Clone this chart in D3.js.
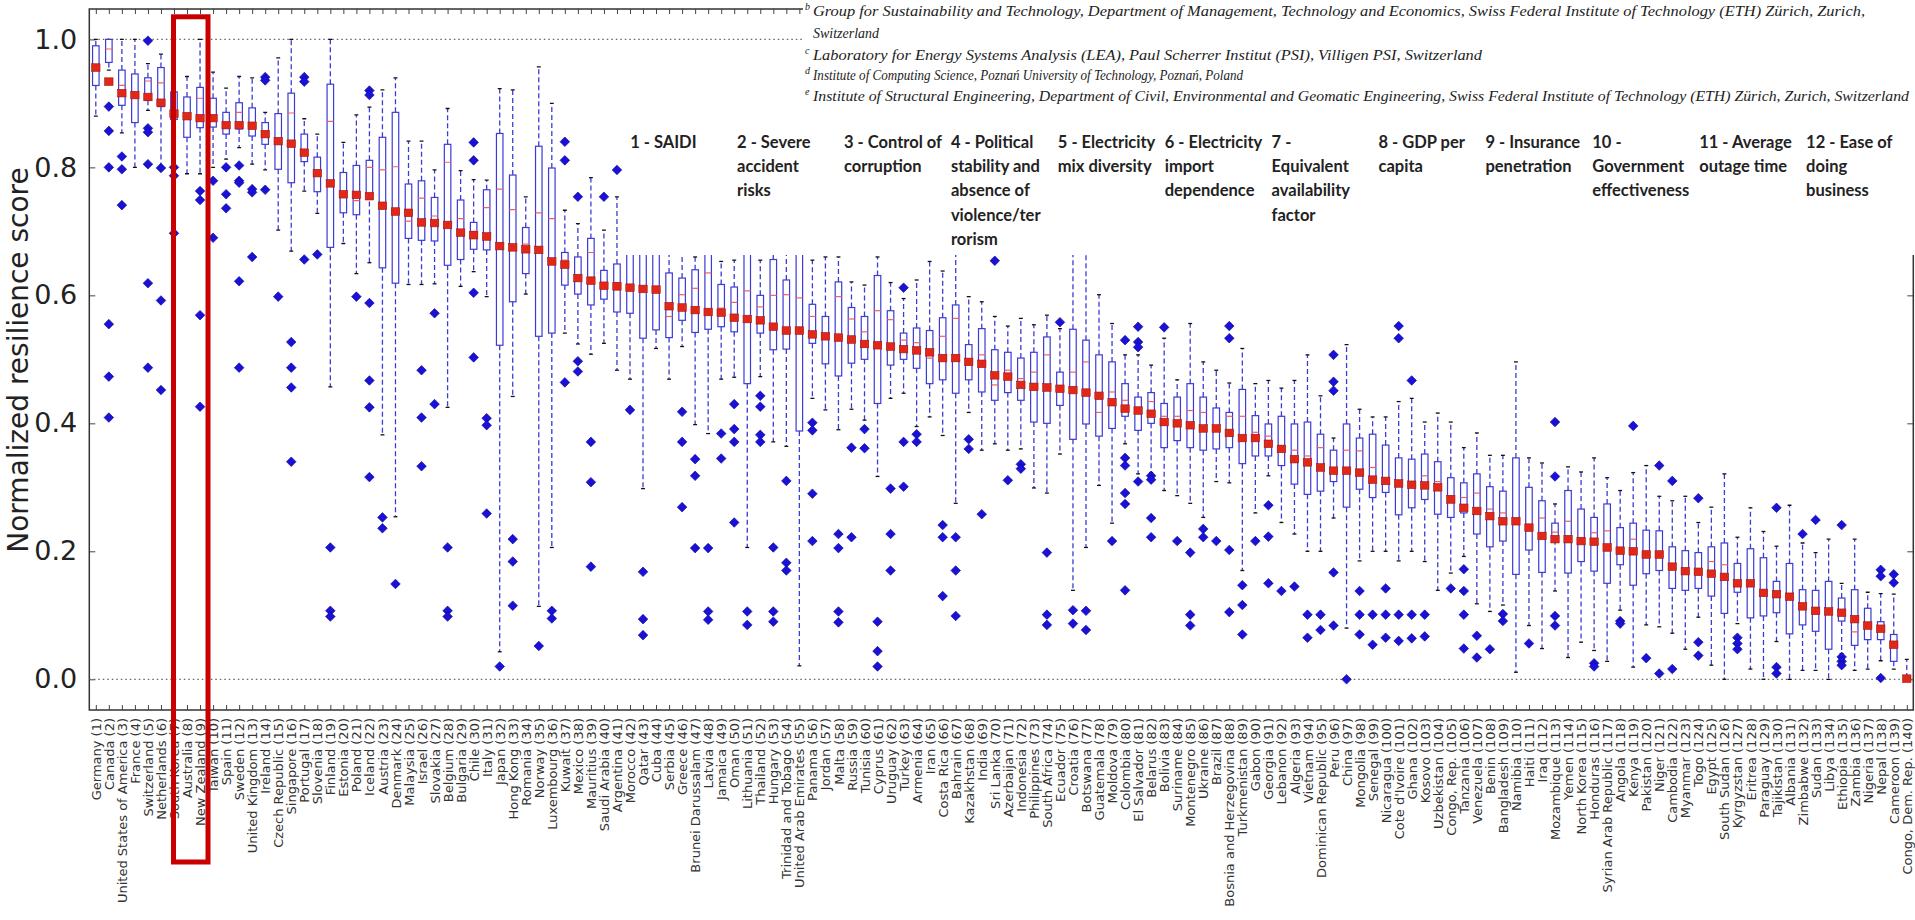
<!DOCTYPE html>
<html><head><meta charset="utf-8">
<script src="https://cdn.jsdelivr.net/npm/d3@7"></script>
<style>body{margin:0;background:#fff;}svg{display:block;}</style>
</head><body>
<svg id="c" width="1915" height="920"></svg>
<script>
const names = ["Germany","Canada","United States of America","France","Switzerland","Netherlands","South Korea","Australia","New Zealand","Taiwan",
"Spain","Sweden","United Kingdom","Ireland","Czech Republic","Singapore","Portugal","Slovenia","Finland","Estonia",
"Poland","Iceland","Austria","Denmark","Malaysia","Israel","Slovakia","Belgium","Bulgaria","Chile",
"Italy","Japan","Hong Kong","Romania","Norway","Luxembourg","Kuwait","Mexico","Mauritius","Saudi Arabia",
"Argentina","Morocco","Qatar","Cuba","Serbia","Greece","Brunei Darussalam","Latvia","Jamaica","Oman",
"Lithuania","Thailand","Hungary","Trinidad and Tobago","United Arab Emirates","Panama","Jordan","Malta","Russia","Tunisia",
"Cyprus","Uruguay","Turkey","Armenia","Iran","Costa Rica","Bahrain","Kazakhstan","India","Sri Lanka",
"Azerbaijan","Indonesia","Philippines","South Africa","Ecuador","Croatia","Botswana","Guatemala","Moldova","Colombia",
"El Salvador","Belarus","Bolivia","Suriname","Montenegro","Ukraine","Brazil","Bosnia and Herzegovina","Turkmenistan","Gabon",
"Georgia","Lebanon","Algeria","Vietnam","Dominican Republic","Peru","China","Mongolia","Senegal","Nicaragua",
"Cote d'Ivoire","Ghana","Kosovo","Uzbekistan","Congo, Rep.","Tanzania","Venezuela","Benin","Bangladesh","Namibia",
"Haiti","Iraq","Mozambique","Yemen","North Korea","Honduras","Syrian Arab Republic","Angola","Kenya","Pakistan",
"Niger","Cambodia","Myanmar","Togo","Egypt","South Sudan","Kyrgyzstan","Eritrea","Paraguay","Tajikistan",
"Albania","Zimbabwe","Sudan","Libya","Ethiopia","Zambia","Nigeria","Nepal","Cameroon","Congo, Dem. Rep."];

const score = [.956,.934,.916,.913,.910,.901,.884,.880,.877,.877,
.866,.866,.865,.852,.841,.837,.823,.791,.775,.758,
.757,.755,.740,.731,.729,.714,.713,.710,.698,.694,
.692,.677,.675,.672,.671,.653,.648,.627,.623,.615,
.614,.612,.610,.609,.583,.581,.577,.574,.573,.565,
.563,.561,.551,.545,.545,.539,.536,.534,.531,.524,
.522,.520,.516,.514,.511,.502,.502,.496,.493,.475,
.473,.460,.457,.456,.454,.452,.448,.443,.433,.423,
.420,.415,.402,.400,.397,.392,.392,.385,.377,.377,
.368,.360,.344,.339,.331,.326,.326,.323,.312,.310,
.306,.304,.303,.300,.281,.268,.263,.255,.247,.247,
.237,.224,.219,.219,.216,.215,.206,.201,.200,.195,
.195,.176,.169,.168,.165,.160,.150,.150,.135,.133,
.129,.114,.107,.106,.104,.094,.084,.079,.054,.001];

const q1 = [.928,.964,.897,.870,.905,.895,.875,.847,.862,.863,
.852,.860,.849,.836,.797,.776,.809,.762,.675,.729,
.726,.759,.643,.619,.689,.686,.685,.647,.656,.672,
.671,.522,.590,.634,.536,.541,.616,.602,.585,.594,
.574,.572,.533,.546,.534,.561,.542,.547,.551,.543,
.462,.541,.515,.516,.388,.525,.493,.474,.494,.500,
.431,.491,.500,.486,.462,.468,.447,.468,.449,.436,
.448,.436,.402,.400,.428,.375,.399,.380,.392,.411,
.389,.400,.362,.373,.362,.358,.360,.362,.337,.349,
.349,.334,.305,.289,.294,.309,.269,.297,.284,.292,
.257,.268,.281,.258,.253,.260,.227,.207,.216,.164,
.202,.167,.218,.166,.184,.169,.150,.179,.147,.165,
.170,.142,.139,.142,.130,.103,.136,.096,.099,.104,
.071,.085,.075,.047,.091,.053,.062,.062,.028,0];

const med = [.957,.985,.928,.912,.935,.932,.888,.884,.908,.877,
.868,.886,.866,.854,.840,.885,.825,.790,.872,.760,
.748,.800,.796,.801,.716,.752,.724,.808,.720,.700,
.737,.766,.734,.680,.729,.720,.655,.630,.667,.620,
.620,.615,.610,.610,.567,.601,.611,.635,.580,.589,
.607,.582,.600,.601,.596,.567,.540,.598,.563,.543,
.576,.562,.530,.526,.502,.536,.564,.500,.507,.460,
.483,.470,.480,.507,.455,.480,.496,.417,.449,.436,
.420,.434,.411,.411,.420,.417,.390,.411,.411,.386,
.380,.360,.358,.349,.362,.330,.358,.357,.331,.310,
.310,.305,.318,.309,.287,.284,.291,.266,.260,.250,
.240,.252,.230,.247,.220,.229,.232,.205,.219,.200,
.195,.178,.170,.170,.184,.179,.150,.153,.140,.133,
.130,.115,.102,.106,.104,.074,.084,.080,.054,0];

const q3 = [.990,1.0,.952,.946,.940,.956,.918,.910,.925,.908,
.886,.901,.893,.870,.884,.916,.852,.816,.930,.792,
.803,.811,.847,.886,.774,.779,.753,.836,.749,.714,
.765,.853,.788,.706,.833,.799,.667,.660,.689,.639,
.649,.700,.700,.700,.635,.627,.640,.680,.617,.613,
.680,.600,.656,.624,.700,.586,.567,.621,.581,.567,
.631,.576,.541,.549,.545,.565,.585,.523,.548,.515,
.511,.502,.511,.535,.480,.547,.530,.507,.496,.462,
.441,.448,.431,.441,.462,.441,.424,.417,.453,.412,
.399,.411,.399,.402,.383,.358,.399,.377,.383,.366,
.346,.344,.352,.340,.315,.307,.321,.301,.294,.346,
.300,.279,.244,.295,.266,.253,.274,.237,.244,.233,
.232,.207,.201,.198,.207,.213,.181,.204,.190,.153,
.181,.140,.139,.153,.127,.140,.111,.090,.070,.002];

const whiskerLow = [.880,.952,.854,.800,.889,.803,.840,.790,.790,.800,
.813,.831,.805,.796,.702,.669,.763,.728,.457,.681,
.634,.651,.382,.254,.617,.617,.618,.425,.614,.637,
.598,.043,.442,.602,.114,.206,.541,.524,.508,.525,
.483,.469,.298,.517,.469,.520,.398,.384,.469,.472,
.206,.473,.371,.364,.021,.439,.421,.390,.422,.405,
.317,.439,.447,.395,.410,.381,.275,.417,.358,.368,
.358,.360,.299,.291,.352,.139,.206,.303,.244,.368,
.321,.323,.295,.287,.275,.253,.309,.307,.170,.260,
.318,.245,.227,.200,.200,.252,.080,.185,.200,.200,
.185,.200,.184,.139,.166,.192,.118,.106,.116,.011,
.084,.048,.138,.034,.058,.045,.028,.108,.019,.085,
.082,.072,.047,.097,.022,0,.087,.016,0,.059,
0,.014,.014,0,.040,.014,.016,.029,.016,0];

const whiskerHigh = [1.0,1.0,1.0,1.0,.962,.977,.940,.942,1.0,.949,
.924,.942,.940,.886,.971,1.0,.876,.852,1.0,.839,
.882,.894,.921,.940,.841,.841,.796,.892,.795,.781,
.780,.923,.921,.754,.957,.900,.733,.712,.784,.702,
.754,.800,.800,.800,.720,.700,.660,.750,.653,.655,
.750,.655,.750,.720,.800,.655,.660,.660,.621,.616,
.660,.620,.595,.624,.653,.638,.720,.598,.590,.567,
.552,.564,.554,.569,.548,.750,.750,.601,.556,.507,
.507,.491,.533,.468,.556,.496,.483,.463,.517,.462,
.467,.455,.467,.507,.443,.377,.523,.422,.410,.410,
.434,.439,.402,.416,.402,.362,.385,.350,.350,.496,
.346,.338,.274,.332,.324,.346,.315,.295,.323,.334,
.286,.279,.286,.245,.269,.321,.222,.268,.231,.208,
.272,.213,.198,.219,.150,.219,.136,.134,.133,.031];

const outliers = [[],[.895,.857,.80,.555,.473,.409],[.817,.797,.741],[],[.998,.861,.855,.805,.619,.487],[.799,.592,.452],[.80,.787,.697],[],[.763,.749,.569,.426],[.779,.690],
[.80,.758,.736],[.803,.779,.776,.622,.487],[.766,.761,.660],[.941,.936,.765],[.598],[.527,.487,.456,.340],[.941,.934,.656],[.664],[.206,.107,.098],[],
[.598],[.920,.913,.588,.467,.425,.316],[.253,.236],[.149],[],[.483,.409,.333],[.572,.430],[.206,.107,.098],[],[.839,.811,.604,.503],
[.408,.397,.259],[.020],[.219,.184,.115],[],[.052],[.107,.095],[.840,.811,.464],[.754,.497,.481],[.371,.308,.176],[.754],
[.796],[.421],[.168,.094,.069],[],[],[.418,.371,.269],[.344,.318,.205],[.205,.106,.093],[.384,.345],[.430,.391,.371,.245],
[.106,.085],[.443,.426,.382,.371],[.206,.106,.090],[.310,.182,.170],[],[.401,.389,.290,.216],[],[.227,.205,.106,.089],[.362,.222],[.391,.361],
[.090,.044,.020],[.298,.227,.170],[.612,.371,.301],[.383,.371],[],[.241,.222,.130],[.222,.170,.099],[.375,.360],[.258],[.654],
[.311],[.336,.329],[],[.198,.101,.085],[.558],[.108,.087],[.107,.077],[],[.216],[.530,.346,.334,.291,.274,.139],
[.551,.527,.519,.309],[.318,.312,.252,.222],[.550],[.216],[.198,.101,.084],[.235,.222],[.216],[.552,.533,.202,.105],[.147,.116,.070],[.216],
[.272,.223,.150],[.138],[.145],[.101,.065],[.101,.077],[.507,.465,.451,.167,.084],[0],[.138,.101,.070],[.101,.054],[.142,.101,.065],
[.552,.533,.101,.060],[.467,.101,.064],[.101,.067],[],[.142],[.172,.138,.101,.048],[.068,.034],[.047],[.102,.091],[],
[.056],[],[.402,.317,.099,.084],[],[],[.025,.020],[],[.091,.087],[.396],[.033],
[.334,.009],[.310,.016],[],[.283,.058,.037],[],[],[.065,.056,.047],[],[],[.268,.019,.009],
[],[.227],[.249],[],[.241,.035,.028,.022],[],[],[.171,.161,.002],[.164,.151],[]];

const yTicks = [0.0, 0.2, 0.4, 0.6, 0.8, 1.0];

const criteria = [
  ["1 - SAIDI"],
  ["2 - Severe","accident","risks"],
  ["3 - Control of","corruption"],
  ["4 - Political","stability and","absence of","violence/ter","rorism"],
  ["5 - Electricity","mix diversity"],
  ["6 - Electricity","import","dependence"],
  ["7 -","Equivalent","availability","factor"],
  ["8 - GDP per","capita"],
  ["9 - Insurance","penetration"],
  ["10 -","Government","effectiveness"],
  ["11 - Average","outage time"],
  ["12 - Ease of","doing","business"]
];

const affiliations = [
  {sup:"b", text:"Group for Sustainability and Technology, Department of Management, Technology and Economics, Swiss Federal Institute of Technology (ETH) Zürich, Zurich,", w:1052},
  {sup:"", text:"Switzerland", w:66},
  {sup:"c", text:"Laboratory for Energy Systems Analysis (LEA), Paul Scherrer Institut (PSI), Villigen PSI, Switzerland", w:669},
  {sup:"d", text:"Institute of Computing Science, Poznań University of Technology, Poznań, Poland", w:430},
  {sup:"e", text:"Institute of Structural Engineering, Department of Civil, Environmental and Geomatic Engineering, Swiss Federal Institute of Technology (ETH) Zürich, Zurich, Switzerland", w:1096}
];

const svg = d3.select("#c");
const L = 89.3, R = 1913.3, T = 9, B = 710;
const n = names.length;
const x = d3.scaleLinear().domain([0.5, n + 0.5]).range([L, R]);
const y = d3.scaleLinear().domain([-0.048, 1.0475]).range([B, T]);
const idx = d3.range(1, n + 1);

svg.append("defs").append("clipPath").attr("id","plot")
  .append("rect").attr("x",L).attr("y",T).attr("width",R-L).attr("height",B-T);

// axes
const gx = svg.append("g").attr("transform",`translate(0,${B})`)
  .call(d3.axisBottom(x).tickValues(idx).tickSize(-5).tickPadding(8)
    .tickFormat(i => `${names[i-1]} (${i})`));
gx.selectAll("text").attr("transform","rotate(-90)")
  .attr("text-anchor","end").attr("x",-8).attr("y",0).attr("dy","0.35em")
  .style("font-family","DejaVu Sans").style("font-size","13px").attr("fill","#333");
const gxt = svg.append("g").attr("transform",`translate(0,${T})`)
  .call(d3.axisTop(x).tickValues(idx).tickSize(-5).tickFormat(""));
const gy = svg.append("g").attr("transform",`translate(${L},0)`)
  .call(d3.axisLeft(y).tickValues(yTicks).tickSize(-6).tickPadding(12).tickFormat(d3.format(".1f")));
gy.selectAll("text").style("font-family","DejaVu Sans").style("font-size","27px").attr("fill","#222");
const gyr = svg.append("g").attr("transform",`translate(${R},0)`)
  .call(d3.axisRight(y).tickValues(yTicks).tickSize(-6).tickFormat(""));
[gx,gxt,gy,gyr].forEach(g=>{g.selectAll("path").remove(); g.selectAll("line").attr("stroke","#444");});
svg.append("rect").attr("x",L).attr("y",T).attr("width",R-L).attr("height",B-T)
  .attr("fill","none").attr("stroke","#333").attr("stroke-width",1.5);

svg.append("text").attr("transform",`translate(28,360) rotate(-90)`)
  .attr("text-anchor","middle").style("font-family","DejaVu Sans").style("font-size","28px")
  .attr("fill","#222").text("Normalized resilience score");

const plot = svg.append("g").attr("clip-path","url(#plot)");
[0,1].forEach(v=>plot.append("line").attr("x1",L).attr("x2",R).attr("y1",y(v)).attr("y2",y(v))
  .attr("stroke","#666").attr("stroke-width",1.2).attr("stroke-dasharray","1.5,3"));

const hw = (x(1.25)-x(1))*1;
const cw = (x(1.15)-x(1));
const blue = "#3b3bd6";
const g = plot.selectAll("g.c").data(idx).join("g");
// whiskers
g.append("line").attr("x1",i=>x(i)).attr("x2",i=>x(i)).attr("y1",i=>y(q3[i-1])).attr("y2",i=>y(whiskerHigh[i-1]))
  .attr("stroke",blue).attr("stroke-width",1.3).attr("stroke-dasharray","5,3");
g.append("line").attr("x1",i=>x(i)).attr("x2",i=>x(i)).attr("y1",i=>y(q1[i-1])).attr("y2",i=>y(whiskerLow[i-1]))
  .attr("stroke",blue).attr("stroke-width",1.3).attr("stroke-dasharray","5,3");
g.append("line").attr("x1",i=>x(i)-cw).attr("x2",i=>x(i)+cw).attr("y1",i=>y(whiskerHigh[i-1])).attr("y2",i=>y(whiskerHigh[i-1]))
  .attr("stroke","#111").attr("stroke-width",1.3);
g.append("line").attr("x1",i=>x(i)-cw).attr("x2",i=>x(i)+cw).attr("y1",i=>y(whiskerLow[i-1])).attr("y2",i=>y(whiskerLow[i-1]))
  .attr("stroke","#111").attr("stroke-width",1.3);
// boxes
g.append("rect").attr("x",i=>x(i)-hw).attr("width",2*hw)
  .attr("y",i=>y(q3[i-1])).attr("height",i=>Math.max(0.5,y(q1[i-1])-y(q3[i-1])))
  .attr("fill","none").attr("stroke",blue).attr("stroke-width",1.2);
g.append("line").attr("x1",i=>x(i)-hw).attr("x2",i=>x(i)+hw).attr("y1",i=>y(med[i-1])).attr("y2",i=>y(med[i-1]))
  .attr("stroke","#f06060").attr("stroke-width",1.2);
// outliers
const dia = d3.symbol(d3.symbolSquare, 46);
g.each(function(i){
  d3.select(this).selectAll("path.o").data(outliers[i-1]).join("path").attr("class","o")
    .attr("d",dia).attr("transform",v=>`translate(${x(i)},${y(v)}) rotate(45)`)
    .attr("fill","#1a10d8").attr("stroke","#0a0890").attr("stroke-width",0.6);
});
// scores
g.append("rect").attr("x",i=>x(i)-4.2).attr("y",i=>y(score[i-1])-3.8).attr("width",8.4).attr("height",7.6)
  .attr("fill","#e2261a").attr("stroke","#9a1a10").attr("stroke-width",0.6);

// white patches
svg.append("rect").attr("x",623).attr("y",112).attr("width",1915-623).attr("height",255-112).attr("fill","#fff");
svg.append("rect").attr("x",803).attr("y",0).attr("width",1915-803).attr("height",113).attr("fill","#fff");

// criteria text
const cg = svg.append("g").style("font-family","Lato").style("font-weight","700").style("font-size","16.5px").attr("fill","#222");
criteria.forEach((lines,k)=>{
  const t = cg.append("text").attr("x",630.2 + k*106.9).attr("y",147.5);
  lines.forEach((s,j)=>t.append("tspan").attr("x",630.2 + k*106.9).attr("y",147.5 + j*24.4).text(s));
});

// affiliations
const ag = svg.append("g").style("font-family","Liberation Serif").style("font-style","italic").attr("fill","#222");
const baseY = [16, 38, 60, 79.5, 100.5];
affiliations.forEach((a,k)=>{
  if (a.sup) ag.append("text").attr("x",805).attr("y",baseY[k]-6).style("font-size","10px").text(a.sup);
  ag.append("text").attr("x",813).attr("y",baseY[k]).style("font-size","15.5px")
    .attr("textLength",a.w).attr("lengthAdjust","spacingAndGlyphs").text(a.text);
});

// highlight
svg.append("rect").attr("x",173.5).attr("y",16.8).attr("width",208-173.5).attr("height",862-16.8)
  .attr("fill","none").attr("stroke","#c80000").attr("stroke-width",5);
</script>
</body></html>
